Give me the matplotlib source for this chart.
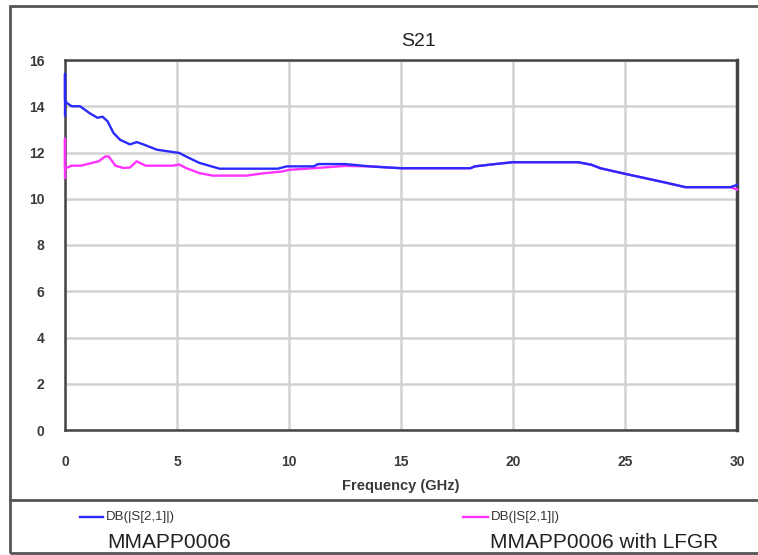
import matplotlib.pyplot as plt
import numpy as np
from matplotlib.lines import Line2D
from matplotlib.patches import Rectangle

plt.rcParams['font.family'] = ['Liberation Sans', 'DejaVu Sans']

## MMAPP0006 (blue)
f1 = [0.0, 0.0, 0.0, 0.07, 0.3, 0.67, 1.1, 1.45, 1.67, 1.9, 2.16, 2.46, 2.9, 3.2, 3.5, 4.1,
      5.1, 5.4, 6.0, 6.9, 8.2, 9.5, 9.9, 11.1, 11.3, 12.5, 13.6, 15.0, 18.1, 18.3, 19.2,
      20.0, 22.9, 23.5, 23.9, 24.9, 25.9, 26.8, 27.7, 29.7, 30.0]
s21_a = [13.6, 15.4, 14.3, 14.15, 14.0, 14.0, 13.7, 13.5, 13.55, 13.35, 12.85, 12.55, 12.35,
         12.45, 12.35, 12.12, 11.98, 11.83, 11.55, 11.3, 11.3, 11.3, 11.4, 11.4, 11.5, 11.5,
         11.4, 11.32, 11.32, 11.4, 11.5, 11.58, 11.58, 11.47, 11.32, 11.1, 10.89, 10.7,
         10.5, 10.5, 10.6]

## MMAPP0006 with LFGR (magenta)
f2 = [0.0, 0.0, 0.0, 0.1, 0.3, 0.7, 1.0, 1.5, 1.8, 1.95, 2.25, 2.6, 2.9, 3.2, 3.6, 4.8, 5.1,
      5.4, 6.0, 6.6, 8.1, 8.85, 9.7, 10.0, 11.1, 12.5, 13.6, 15.0, 18.1, 18.3, 19.2, 20.0,
      22.9, 23.5, 23.9, 24.9, 25.9, 26.8, 27.7, 29.7, 30.0]
s21_b = [10.9, 12.6, 11.3, 11.35, 11.43, 11.43, 11.5, 11.62, 11.83, 11.83, 11.43, 11.33,
         11.35, 11.62, 11.43, 11.43, 11.48, 11.33, 11.11, 11.0, 11.0, 11.1, 11.18, 11.25,
         11.32, 11.42, 11.4, 11.32, 11.32, 11.4, 11.5, 11.58, 11.58, 11.47, 11.32, 11.1,
         10.89, 10.7, 10.5, 10.5, 10.4]

xticks = [0, 5, 10, 15, 20, 25, 30]
yticks = [0, 2, 4, 6, 8, 10, 12, 14, 16]

W, H = 758, 555
fig = plt.figure(figsize=(W / 100, H / 100), dpi=100)
ax = fig.add_axes([65 / W, 1 - 430 / H, (737 - 65) / W, (430 - 60) / H])

ax.plot(f2, s21_b, color='#ff33ff', lw=1.7, zorder=3, clip_on=False)
ax.plot(f1, s21_a, color='#2a2aff', lw=1.7, zorder=4, clip_on=False)

ax.set_xlim(0, 30)
ax.set_ylim(0, 16)
ax.set_xticks(xticks)
ax.set_yticks(yticks)
ax.grid(True, color='#d2d2d2', lw=1.8)
ax.set_axisbelow(True)
ax.tick_params(length=0, labelsize=10, colors='#3a3a3a')
ax.tick_params(axis='y', pad=15)
ax.tick_params(axis='x', pad=18)
for lab in ax.get_xticklabels() + ax.get_yticklabels():
    lab.set_fontweight('bold')
for sp in ax.spines.values():
    sp.set_color('#444444')
    sp.set_linewidth(1.8)
    sp.set_zorder(2)
ax.spines['right'].set_linewidth(2.5)

ax.set_xlabel('Frequency (GHz)', fontsize=10.5, fontweight='bold', color='#3a3a3a', labelpad=7)

fig.text(419 / W, 1 - 41 / H, 'S21', fontsize=14, color='#222222', ha='center', va='center')

# outer frame and legend separator
fig.patches.append(Rectangle((10 / W, 1 - 553 / H), (W + 10) / W, (553 - 6) / H,
                             transform=fig.transFigure, fill=False, ec='#555555', lw=2))
fig.add_artist(Line2D([10 / W, 1], [1 - 500 / H] * 2, color='#555555', lw=2))

# legend entries
fig.add_artist(Line2D([80 / W, 103 / W], [1 - 517 / H] * 2, color='#2a2aff', lw=1.7))
fig.text(106 / W, 1 - 517 / H, 'DB(|S[2,1]|)', fontsize=9.5, color='#333333', va='center')
fig.text(107 / W, 1 - 542 / H, 'MMAPP0006', fontsize=15, color='#222222', va='center')
fig.add_artist(Line2D([463 / W, 488 / W], [1 - 517 / H] * 2, color='#ff33ff', lw=1.7))
fig.text(491 / W, 1 - 517 / H, 'DB(|S[2,1]|)', fontsize=9.5, color='#333333', va='center')
fig.text(490 / W, 1 - 542 / H, 'MMAPP0006 with LFGR', fontsize=15, color='#222222', va='center')

plt.savefig('out.png', dpi=100)
